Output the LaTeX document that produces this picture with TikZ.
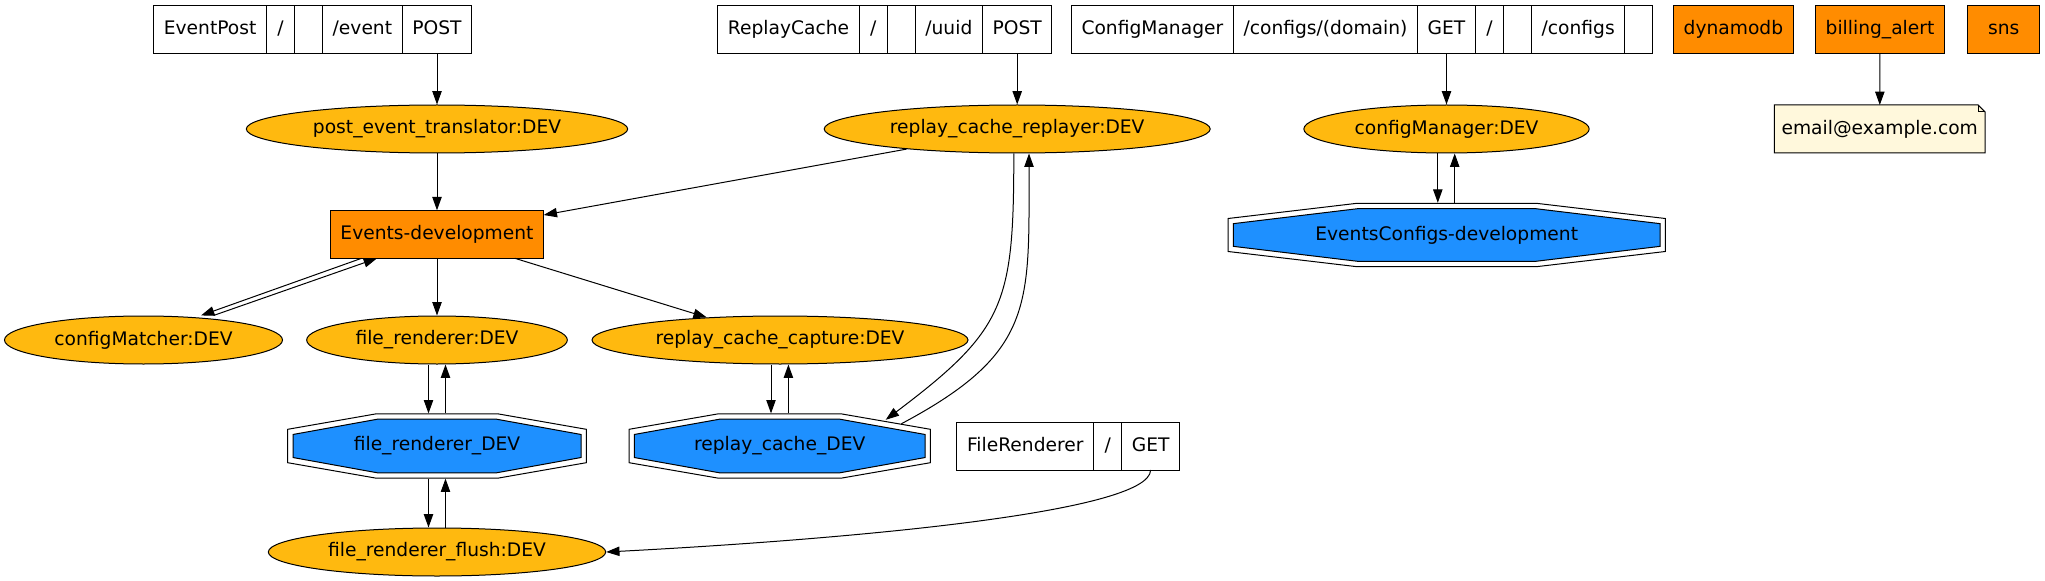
\documentclass[tikz,border=0pt]{standalone}
\usepackage{fontspec}
\setmainfont{DejaVu Sans}
\usepackage{tikz}
\usetikzlibrary{arrows.meta,calc,shapes.geometric}
\definecolor{procgold}{HTML}{FFB90F}
\definecolor{resorange}{HTML}{FF8C00}
\definecolor{tblblue}{HTML}{1E90FF}
\definecolor{notesilk}{HTML}{FFF8DC}
% double octagon: name, x, y, outer half width, outer half height, text
\newcommand{\dbloct}[6]{%
  \pgfmathsetmacro{\octw}{#4}\pgfmathsetmacro{\octh}{#5}%
  \pgfmathsetmacro{\octiw}{#4-5.3}\pgfmathsetmacro{\octih}{#5-5.3}%
  \begin{scope}[shift={(#2,#3)}]
  \draw (-0.41*\octw,-\octh) -- (0.41*\octw,-\octh) -- (\octw,-0.52*\octh) -- (\octw,0.52*\octh) -- (0.41*\octw,\octh) -- (-0.41*\octw,\octh) -- (-\octw,0.52*\octh) -- (-\octw,-0.52*\octh) -- cycle;
  \draw[fill=tblblue] (-0.414*\octiw,-\octih) -- (0.414*\octiw,-\octih) -- (\octiw,-0.43*\octih) -- (\octiw,0.43*\octih) -- (0.414*\octiw,\octih) -- (-0.414*\octiw,\octih) -- (-\octiw,0.43*\octih) -- (-\octiw,-0.43*\octih) -- cycle;
  \end{scope}
  \node[tbl,minimum width=1.5*#4pt,minimum height=1.5*#5pt] (#1) at (#2,#3) {#6};
}

\begin{document}
\begin{tikzpicture}[x=0.75pt,y=-0.75pt,line width=0.75pt,>={Triangle[length=10pt,width=7pt]},
  every node/.style={font=\fontsize{14}{17}\selectfont},
  fld/.style={draw,rectangle,inner xsep=7.6pt,inner ysep=0pt,outer sep=0pt,minimum width=21pt,minimum height=36pt,text height=10.5pt,text depth=3pt},
  res/.style={fld,fill=resorange,minimum width=54pt},
  proc/.style={draw,ellipse,fill=procgold,inner sep=0pt,minimum height=36pt},
  tbl/.style={rectangle,inner sep=0pt},
  notebox/.style={rectangle,fill=notesilk,inner xsep=4pt,outer sep=0pt,minimum width=158pt,minimum height=36pt}]
\useasboundingbox (0,0) rectangle (2045,581);

\node[fld] (ep5) at (437,30) {POST};
\node[fld,anchor=east] (ep4) at (ep5.west) {/event};
\node[fld,anchor=east] (ep3) at (ep4.west) {};
\node[fld,anchor=east] (ep2) at (ep3.west) {/};
\node[fld,anchor=east] (ep1) at (ep2.west) {EventPost};

\node[fld] (rc5) at (1017.2,30) {POST};
\node[fld,anchor=east] (rc4) at (rc5.west) {/uuid};
\node[fld,anchor=east] (rc3) at (rc4.west) {};
\node[fld,anchor=east] (rc2) at (rc3.west) {/};
\node[fld,anchor=east] (rc1) at (rc2.west) {ReplayCache};

\node[fld] (cf3) at (1446.5,30) {GET};
\node[fld,anchor=east] (cf2) at (cf3.west) {/configs/(domain)};
\node[fld,anchor=east] (cf1) at (cf2.west) {ConfigManager};
\node[fld,anchor=west] (cf4) at (cf3.east) {/};
\node[fld,anchor=west] (cf5) at (cf4.east) {};
\node[fld,anchor=west] (cf6) at (cf5.east) {/configs};
\node[fld,anchor=west] (cf7) at (cf6.east) {};

\node[res] (dyn) at (1733.4,30) {dynamodb};
\node[res] (ba) at (1880,30) {billing\_alert};
\node[res] (sns) at (2003.7,30) {sns};

\node[proc,minimum width=286pt] (pet) at (437,129) {post\_event\_translator:DEV};
\node[proc,minimum width=289.5pt] (rcr) at (1017.2,129) {replay\_cache\_replayer:DEV};
\node[proc,minimum width=214pt] (cfm) at (1446.5,129) {configManager:DEV};
\node[notebox] (em) at (1879.7,129) {email@example.com};
\fill[white] ($(em.north east)+(-7,0)$) -- (em.north east) -- ($(em.north east)+(0,7)$) -- cycle;
\draw ($(em.north east)+(-7,0)$) -- (em.north west) -- (em.south west) -- (em.south east) -- ($(em.north east)+(0,7)$) -- cycle;
\draw ($(em.north east)+(-7,0)$) -- ($(em.north east)+(-7,7)$) -- ($(em.north east)+(0,7)$);

\node[res] (ev) at (437,234.3) {Events-development};
\dbloct{ecd}{1446.7}{235}{218.7}{31.7}{EventsConfigs-development}

\node[proc,minimum width=208.5pt] (cmt) at (143.5,340) {configMatcher:DEV};
\node[proc,minimum width=195.5pt] (frn) at (437,340) {file\_renderer:DEV};
\node[proc,minimum width=282pt] (rcc) at (780,340) {replay\_cache\_capture:DEV};

\dbloct{frd}{437}{446}{149.3}{32.1}{file\_renderer\_DEV}
\dbloct{rcd}{779.7}{446}{150.7}{32.1}{replay\_cache\_DEV}

\node[fld] (fx3) at (1150.6,446) {GET};
\node[fld,anchor=east] (fx2) at (fx3.west) {/};
\node[fld,anchor=east] (fx1) at (fx2.west) {FileRenderer};

\node[proc,minimum width=253pt] (frf) at (437,552) {file\_renderer\_flush:DEV};

\draw[->] (ep5) -- (pet);
\draw[->] (pet) -- (ev);
\draw[->] (rc5) -- (rcr);
\draw[->] (rcr) -- (ev);
\draw[->] (cf3) -- (cfm);
\draw[->] (ba) -- (em);
\draw[->] ($(ev.south)+(-75.4,0)$) -- ($(cmt.north)+(57.5,0)$);
\draw[->] ($(cmt.north)+(70,0)$) -- ($(ev.south)+(-60,0)$);
\draw[->] (ev) -- (frn);
\draw[->] (ev) -- (rcc);
\draw[->] ($(frn.south)+(-8.5,0)$) -- ($(frd.north)+(-8.5,0)$);
\draw[->] ($(frd.north)+(8.5,0)$) -- ($(frn.south)+(8.5,0)$);
\draw[->] ($(frd.south)+(-8.5,0)$) -- ($(frf.north)+(-8.5,0)$);
\draw[->] ($(frf.north)+(8.5,0)$) -- ($(frd.south)+(8.5,0)$);
\draw[->] ($(rcc.south)+(-9,0)$) -- ($(rcd.north)+(-8.7,0)$);
\draw[->] ($(rcd.north)+(8.7,0)$) -- ($(rcc.south)+(8.4,0)$);
\draw[->] ($(cfm.south)+(-8.7,0)$) -- ($(ecd.north)+(-8.9,0)$);
\draw[->] ($(ecd.north)+(8,0)$) -- ($(cfm.south)+(8.2,0)$);
\draw[->] ($(rcr.south)+(-3.4,0)$) to [out=-90,in=37,looseness=1.3] ($(rcd.center)+(106,-26.2)$);
\draw[->] ($(rcd.center)+(121.6,-22.2)$) to [out=28,in=-90,looseness=1.3] ($(rcr.south)+(11.8,0)$);
\draw[->] (fx3) to [out=-90,in=3,out looseness=0.2,in looseness=1.1] (frf.east);
\end{tikzpicture}
\end{document}
